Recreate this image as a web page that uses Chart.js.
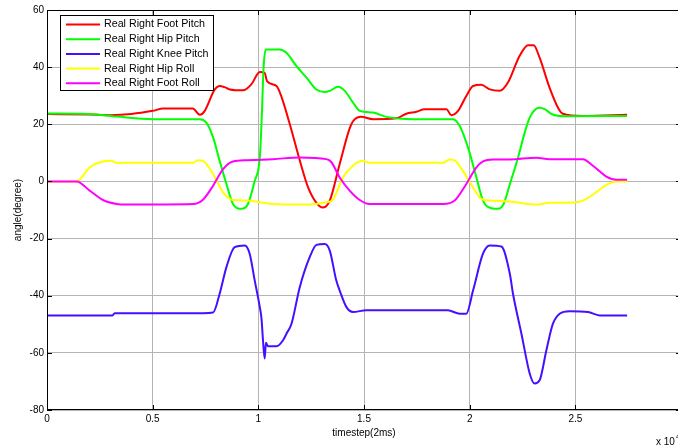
<!DOCTYPE html>
<html>
<head>
<meta charset="utf-8">
<script src="https://cdn.jsdelivr.net/npm/chart.js@4/dist/chart.umd.min.js"></script>
<style>
  html, body { margin: 0; padding: 0; background: #fff; width: 678px; height: 448px; overflow: hidden; }
  #wrap { width: 688px; height: 448px; }
</style>
</head>
<body>
<div id="wrap"><canvas id="c" width="688" height="448"></canvas></div>
<script>
// x in units of 10^4 timesteps, y in degrees
const seriesNames = ['Real Right Foot Pitch', 'Real Right Hip Pitch', 'Real Right Knee Pitch', 'Real Right Hip Roll', 'Real Right Foot Roll'];
const seriesColors = ['#ff0000', '#00ff00', '#4410ff', '#ffff00', '#ff00ff'];

const footPitch = [[0,23.6],[0.2,23.4],[0.3,23.2],[0.4,23.6],[0.5,24.7],[0.55,25.5],[0.69,25.5],[0.723,23.3],[0.745,24.5],[0.794,32.2],[0.817,33.4],[0.84,33],[0.865,32.2],[0.928,31.9],[0.967,34],[1.007,38.3],[1.03,38],[1.041,35.1],[1.086,33.4],[1.11,29.5],[1.149,20],[1.19,9],[1.235,-2],[1.275,-7.5],[1.306,-9.1],[1.338,-6.7],[1.385,6.1],[1.44,20],[1.485,22.6],[1.543,21.8],[1.653,22.1],[1.7,23.7],[1.748,24.4],[1.787,25.3],[1.89,25.3],[1.913,23.2],[1.945,24.7],[1.984,29.9],[2.016,33.4],[2.055,33.8],[2.095,32.2],[2.142,31.7],[2.181,34.6],[2.236,43.9],[2.276,47.7],[2.303,47.7],[2.331,43.3],[2.378,32.8],[2.418,25.8],[2.441,23.7],[2.536,22.9],[2.745,23.3]];
const hipPitch = [[0,23.8],[0.2,23.6],[0.33,22.7],[0.5,21.8],[0.723,21.8],[0.754,20.6],[0.786,15.4],[0.817,7.2],[0.849,-0.9],[0.88,-7.9],[0.92,-9.6],[0.951,-7.9],[0.983,0.2],[1.007,8.4],[1.016,22],[1.025,40],[1.035,46.2],[1.101,46.2],[1.133,45],[1.18,40.4],[1.228,36.3],[1.275,32.2],[1.314,31.3],[1.338,31.7],[1.377,33.1],[1.409,31.7],[1.448,27.6],[1.48,24.7],[1.543,24.1],[1.606,22.6],[1.732,21.8],[1.921,21.8],[1.953,19.4],[1.992,11.9],[2.032,1.4],[2.063,-6.7],[2.103,-9.4],[2.134,-9.6],[2.16,-8],[2.19,-1],[2.229,8.4],[2.26,17],[2.284,22.3],[2.31,25.2],[2.331,25.8],[2.355,25.3],[2.39,23.5],[2.45,22.8],[2.745,22.9]];
const kneePitch = [[0,-46.9],[0.31,-46.9],[0.32,-46.1],[0.738,-46.1],[0.786,-45.9],[0.817,-39.3],[0.849,-30],[0.888,-23],[0.936,-22.4],[0.959,-25.3],[0.983,-34.7],[1.007,-44],[1.015,-48],[1.022,-55.6],[1.03,-62],[1.036,-56.5],[1.046,-57.7],[1.086,-57.7],[1.117,-55.6],[1.133,-53.3],[1.157,-49.8],[1.196,-37],[1.243,-26.5],[1.275,-22.2],[1.314,-21.9],[1.338,-24.2],[1.369,-34.7],[1.385,-38.2],[1.417,-44],[1.448,-45.7],[1.511,-45.1],[1.897,-45.1],[1.953,-46.3],[1.984,-46.3],[2.016,-38.2],[2.063,-25.3],[2.095,-22.4],[2.15,-22.8],[2.19,-32.3],[2.205,-39.3],[2.245,-53.3],[2.284,-67.2],[2.307,-70.7],[2.331,-69.6],[2.363,-59.1],[2.394,-49.8],[2.426,-46.3],[2.473,-45.4],[2.56,-45.7],[2.615,-46.9],[2.745,-46.9]];
const hipRoll = [[0,0],[0.14,0],[0.202,4.9],[0.265,7],[0.305,7.2],[0.329,6.5],[0.691,6.5],[0.715,7.4],[0.738,7.2],[0.786,2.6],[0.833,-3.8],[0.88,-6.5],[0.944,-6.7],[1.07,-7.9],[1.228,-8.1],[1.322,-7.3],[1.353,-6.5],[1.375,-3],[1.4,1.4],[1.448,5.5],[1.495,7.2],[1.527,6.5],[1.874,6.5],[1.905,7.7],[1.929,7.4],[1.968,3.7],[2.016,-2.1],[2.055,-6.1],[2.095,-6.7],[2.19,-7],[2.315,-8.1],[2.378,-7.5],[2.505,-7.3],[2.552,-6.1],[2.599,-3.8],[2.647,-1.2],[2.694,0],[2.745,0]];
const footRoll = [[0,0],[0.14,0],[0.202,-3.2],[0.265,-6.5],[0.329,-7.9],[0.376,-8.1],[0.691,-7.9],[0.738,-6.4],[0.786,-1.5],[0.833,4.3],[0.88,7],[0.944,7.4],[1.07,7.8],[1.196,8.4],[1.322,7.8],[1.345,6.8],[1.385,1.4],[1.432,-3.2],[1.48,-6.5],[1.527,-7.9],[1.874,-7.9],[1.929,-6.7],[1.984,-0.9],[2.032,4.9],[2.063,7],[2.11,7.7],[2.19,7.7],[2.315,8.3],[2.378,7.8],[2.536,7.8],[2.583,5.5],[2.647,1.7],[2.694,0.6],[2.745,0.6]];

const yTicks = [-80, -60, -40, -20, 0, 20, 40, 60];
const xTickLabels = ['0', '0.5', '1', '1.5', '2', '2.5'];

const allSeries = [footPitch, hipPitch, kneePitch, hipRoll, footRoll];
const FONT = '"Liberation Sans", Arial, Helvetica, sans-serif';

const datasets = allSeries.map((s, i) => ({
  label: seriesNames[i],
  data: s.map(p => ({ x: p[0], y: p[1] })),
  borderColor: seriesColors[i],
  backgroundColor: seriesColors[i],
  borderWidth: 2,
  pointRadius: 0,
  cubicInterpolationMode: 'monotone',
  fill: false,
  order: allSeries.length - i
}));

const matlabPlugin = {
  id: 'matlab',
  afterDraw(chart) {
    const ctx = chart.ctx;
    const a = chart.chartArea;
    const xs = chart.scales.x, ys = chart.scales.y;
    ctx.save();
    // box
    ctx.strokeStyle = '#000';
    ctx.lineWidth = 1;
    ctx.strokeRect(a.left + 0.5, a.top + 0.5, a.right - a.left - 1, a.bottom - a.top - 1);
    // inward ticks
    ctx.beginPath();
    ys.ticks.forEach(t => {
      const py = Math.round(ys.getPixelForValue(t.value)) + 0.5;
      ctx.moveTo(a.left, py); ctx.lineTo(a.left + 5, py);
      ctx.moveTo(a.right, py); ctx.lineTo(a.right - 5, py);
    });
    xs.ticks.forEach(t => {
      const px = Math.round(xs.getPixelForValue(t.value)) + 0.5;
      ctx.moveTo(px, a.bottom); ctx.lineTo(px, a.bottom - 5);
      ctx.moveTo(px, a.top); ctx.lineTo(px, a.top + 5);
    });
    ctx.stroke();
    // exponent label
    ctx.fillStyle = '#000';
    ctx.font = '10px ' + FONT;
    ctx.textBaseline = 'alphabetic';
    ctx.textAlign = 'left';
    const ex = a.right - 25;
    ctx.fillText('x 10', ex, a.bottom + 35);
    const w = ctx.measureText('x 10').width;
    ctx.font = '7px ' + FONT;
    ctx.fillText('4', ex + w + 1, a.bottom + 29);
    // legend
    const lx = a.left + 13, ly = a.top + 5, lw = 153, lh = 75;
    ctx.fillStyle = '#fff';
    ctx.fillRect(lx, ly, lw, lh);
    ctx.strokeStyle = '#000';
    ctx.lineWidth = 1;
    ctx.strokeRect(lx + 0.5, ly + 0.5, lw, lh);
    ctx.font = '10.7px ' + FONT;
    ctx.textBaseline = 'middle';
    chart.data.datasets.forEach((d, i) => {
      const ry = ly + 9.5 + i * 14.7;
      ctx.strokeStyle = d.borderColor;
      ctx.lineWidth = 2;
      ctx.beginPath();
      ctx.moveTo(lx + 6, ry); ctx.lineTo(lx + 40, ry);
      ctx.stroke();
      ctx.fillStyle = '#000';
      ctx.fillText(d.label, lx + 44, ry);
    });
    ctx.restore();
  }
};

new Chart(document.getElementById('c'), {
  type: 'line',
  data: { datasets },
  plugins: [matlabPlugin],
  options: {
    responsive: false,
    animation: false,
    layout: { padding: { top: 10, right: 7, left: 0, bottom: 0 } },
    plugins: { legend: { display: false }, tooltip: { enabled: false } },
    scales: {
      x: {
        type: 'linear', min: 0, max: 3,
        afterBuildTicks: s => { s.ticks = xTickLabels.map(v => ({ value: parseFloat(v) })).concat([{ value: 3 }]); },
        ticks: {
          color: '#000', font: { size: 10, family: FONT }, padding: 3, maxRotation: 0,
          callback: (v) => { const i = xTickLabels.indexOf(String(v)); return i >= 0 ? xTickLabels[i] : ''; }
        },
        grid: { color: '#b4b4b4', lineWidth: 1, drawTicks: false },
        border: { display: false },
        title: { display: true, text: 'timestep(2ms)', color: '#000', font: { size: 10, family: FONT }, padding: { top: 2, bottom: 9 } },
        afterFit: s => { s.height = 38; }
      },
      y: {
        type: 'linear', min: -80, max: 60,
        afterBuildTicks: s => { s.ticks = yTicks.map(v => ({ value: v })); },
        ticks: { color: '#000', font: { size: 10, family: FONT }, padding: 3 },
        grid: { color: '#b4b4b4', lineWidth: 1, drawTicks: false },
        border: { display: false },
        title: { display: true, text: 'angle(degree)', color: '#000', font: { size: 10, family: FONT }, padding: { top: 12, bottom: 0 } },
        afterFit: s => { s.width = 47; }
      }
    }
  }
});
</script>
</body>
</html>
